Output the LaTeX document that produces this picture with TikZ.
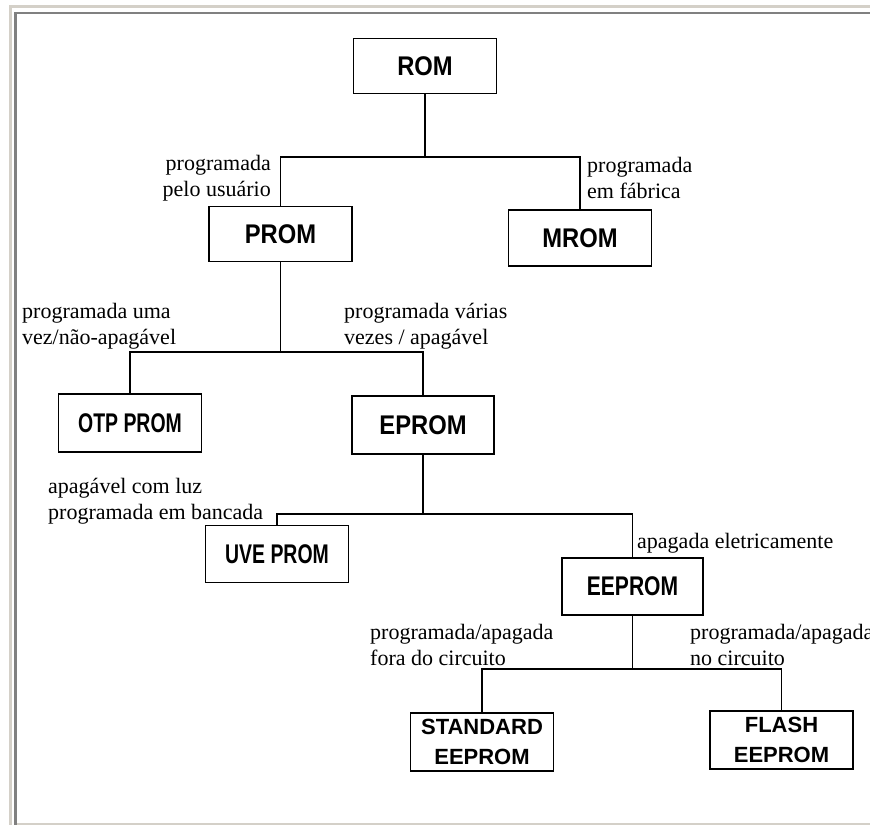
\documentclass[tikz,border=0pt]{standalone}
\usepackage{fontspec}
\setmainfont{Liberation Serif}
\newfontfamily\boxfont{Liberation Sans}
\usepackage{tikz}
\definecolor{frameLight}{HTML}{D4D0C8}
\definecolor{frameDark}{HTML}{808080}
\newcommand{\nar}[2][.88]{\scalebox{#1}[1]{#2}}

\tikzset{
  mem/.style={draw, line width=1.6pt, align=center, inner sep=0pt,
    font=\boxfont\bfseries\fontsize{27}{30}\selectfont},
  memtwo/.style={mem, font=\boxfont\bfseries\fontsize{22}{30}\selectfont},
  lbl/.style={align=left, inner sep=0pt, font=\fontsize{22}{26}\selectfont},
  wire/.style={line width=1.5pt},
}

\begin{document}
\begin{tikzpicture}[x=1pt, y=-1pt]
\useasboundingbox (0,0) rectangle (870,825);
% moldura
\draw[frameLight, line width=2.2pt] (870,6.5) -- (10.5,6.5) -- (10.5,825);
\draw[frameLight, line width=2pt] (14,824) -- (870,824);
\draw[frameDark, line width=2.2pt] (870,13) -- (15.5,13) -- (15.5,825);

\node[mem, minimum width=143pt, minimum height=55pt] (rom) at (425,66) {\nar{ROM}};
\node[mem, minimum width=143pt, minimum height=55pt] (prom) at (280.5,234) {\nar{PROM}};
\node[mem, minimum width=143pt, minimum height=56pt] (mrom) at (580,238) {\nar{MROM}};
\node[mem, minimum width=143pt, minimum height=58pt] (otp) at (130,423) {\nar[.72]{OTP PROM}};
\node[mem, minimum width=142pt, minimum height=58pt] (eprom) at (423,425) {\nar{EPROM}};
\node[mem, minimum width=143pt, minimum height=57pt] (uve) at (277,554) {\nar[.72]{UVE PROM}};
\node[mem, minimum width=141pt, minimum height=57pt] (eeprom) at (632.5,586.5) {\nar[.78]{EEPROM}};
\node[memtwo, minimum width=143pt, minimum height=58pt] (std) at (482,742) {STANDARD\\EEPROM};
\node[memtwo, minimum width=143pt, minimum height=58pt] (flash) at (781.5,740) {FLASH\\EEPROM};

\coordinate (j1) at (0,157);
\coordinate (j2) at (0,352);
\coordinate (j3) at (0,514);
\coordinate (j4) at (0,669);

\draw[wire] (rom.south) -- (rom.south |- j1);
\draw[wire] (prom.north) |- (mrom.north |- j1) -- (mrom.north);
\draw[wire] (prom.south) -- (prom.south |- j2);
\draw[wire] (otp.north) |- (eprom.north |- j2) -- (eprom.north);
\draw[wire] (eprom.south) -- (eprom.south |- j3);
\draw[wire] (uve.north) |- (eeprom.north |- j3) -- (eeprom.north);
\draw[wire] (eeprom.south) -- (eeprom.south |- j4);
\draw[wire] (std.north) |- (flash.north |- j4) -- (flash.north);

\node[lbl, align=right, anchor=east] (usuario) at (271,178) {programada\\pelo usuário};
\node[lbl, anchor=west] (fabrica) at (587,178) {programada\\em fábrica};
\node[lbl, anchor=west] (uma) at (22,326) {programada uma\\vez/não-apagável};
\node[lbl, anchor=west] (varias) at (344,326) {programada várias\\vezes / apagável};
\node[lbl, anchor=west] (luz) at (48,501) {apagável com luz\\programada em bancada};
\node[lbl, anchor=west] (eletr) at (637,543) {apagada eletricamente};
\node[lbl, anchor=west] (fora) at (370,645) {programada/apagada\\fora do circuito};
\node[lbl, anchor=west] (nocirc) at (690,645) {programada/apagada\\no circuito};
\end{tikzpicture}
\end{document}
